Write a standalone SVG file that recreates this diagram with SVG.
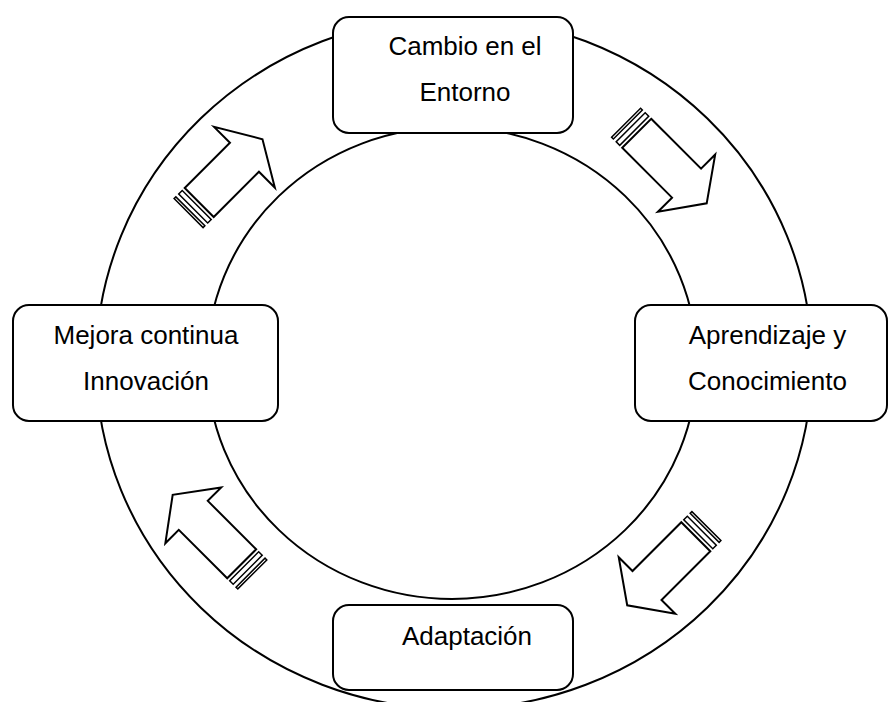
<svg xmlns="http://www.w3.org/2000/svg" width="889" height="702" viewBox="0 0 889 702">
  <style>
    .ring { fill: none; stroke: #000; stroke-width: 2; }
    .box { fill: #fff; stroke: #000; stroke-width: 2; }
    .arrow { fill: #fff; stroke: #000; stroke-width: 2; stroke-linejoin: miter; }
    .stripe { fill: #fff; stroke: #000; stroke-width: 1.5; }
    .lbl { font-family: "Liberation Sans", Arial, sans-serif; font-size: 26px; fill: #000; text-anchor: middle; }
  </style>
  <rect x="0" y="0" width="889" height="702" fill="#fff"/>
  <g id="rings">
    <ellipse class="ring" cx="454" cy="363" rx="358" ry="346"/>
    <ellipse class="ring" cx="452" cy="363" rx="245" ry="236"/>
  </g>
  <g id="connectors">
    <g transform="translate(199.2,202.5) rotate(-45)">
      <polygon class="arrow" points="0,-20.5 64,-20.5 64,-43 89.5,0 64,43 64,20.5 0,20.5"/>
      <rect class="stripe" x="-8.5" y="-20.5" width="5" height="41"/>
      <rect class="stripe" x="-15" y="-20.5" width="2.5" height="41"/>
    </g>
    <g transform="translate(636.7,133.3) rotate(45)">
      <polygon class="arrow" points="0,-20.5 70.5,-20.5 70.5,-40.5 99,0 70.5,40.5 70.5,20.5 0,20.5"/>
      <rect class="stripe" x="-8.5" y="-20.5" width="5" height="41"/>
      <rect class="stripe" x="-15" y="-20.5" width="2.5" height="41"/>
    </g>
    <g transform="translate(695.8,536.7) rotate(135)">
      <polygon class="arrow" points="0,-20.5 69,-20.5 69,-40 97,0 69,40 69,20.5 0,20.5"/>
      <rect class="stripe" x="-8.5" y="-20.5" width="5" height="41"/>
      <rect class="stripe" x="-15" y="-20.5" width="2.5" height="41"/>
    </g>
    <g transform="translate(241.7,563.8) rotate(-135)">
      <polygon class="arrow" points="0,-20.5 68.5,-20.5 68.5,-39.5 97.6,0 68.5,39.5 68.5,20.5 0,20.5"/>
      <rect class="stripe" x="-8.5" y="-20.5" width="5" height="41"/>
      <rect class="stripe" x="-15" y="-20.5" width="2.5" height="41"/>
    </g>
  </g>
  <g id="node-cambio">
    <rect class="box" x="333" y="17" width="240" height="116" rx="16" ry="16"/>
    <text class="lbl" x="465" y="55">Cambio en el</text>
    <text class="lbl" x="465" y="101">Entorno</text>
  </g>
  <g id="node-aprendizaje">
    <rect class="box" x="635" y="305" width="252" height="116" rx="16" ry="16"/>
    <text class="lbl" x="767.5" y="344">Aprendizaje y</text>
    <text class="lbl" x="767.5" y="390">Conocimiento</text>
  </g>
  <g id="node-adaptacion">
    <rect class="box" x="333" y="605" width="240" height="85" rx="16" ry="16"/>
    <text class="lbl" x="467" y="645">Adaptación</text>
  </g>
  <g id="node-mejora">
    <rect class="box" x="13" y="305" width="265" height="116" rx="16" ry="16"/>
    <text class="lbl" x="146" y="344">Mejora continua</text>
    <text class="lbl" x="146" y="390">Innovación</text>
  </g>
</svg>
